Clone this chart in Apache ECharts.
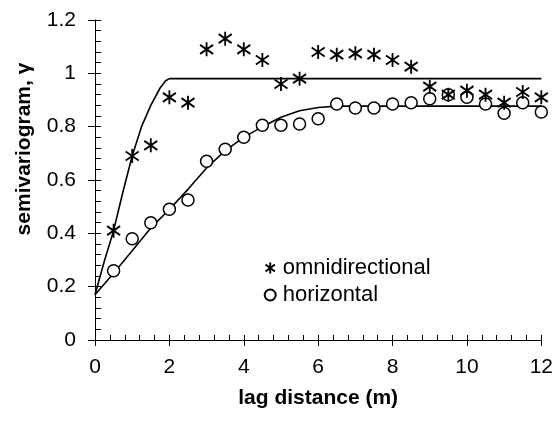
<!DOCTYPE html>
<html>
<head>
<meta charset="utf-8">
<script src="https://cdn.jsdelivr.net/npm/echarts@6/dist/echarts.min.js"></script>
<style>
    html, body { margin: 0; padding: 0; background: #fff; }
    #chart { width: 556px; height: 424px; }
</style>
</head>
<body>
<div id="chart"></div>
<script>
// measured lags (m)
const lags = [0.5, 1, 1.5, 2, 2.5, 3, 3.5, 4, 4.5, 5, 5.5, 6, 6.5, 7, 7.5, 8, 8.5, 9, 9.5, 10, 10.5, 11, 11.5, 12]
// experimental semivariogram values
const omniValues = [0.41, 0.69, 0.73, 0.91, 0.89, 1.09, 1.13, 1.09, 1.05, 0.96, 0.98, 1.08, 1.07, 1.075, 1.07, 1.05, 1.025, 0.95, 0.92, 0.935, 0.92, 0.89, 0.93, 0.91]
const horizValues = [0.26, 0.38, 0.44, 0.49, 0.525, 0.67, 0.715, 0.76, 0.805, 0.805, 0.81, 0.83, 0.885, 0.87, 0.87, 0.885, 0.89, 0.905, 0.92, 0.91, 0.885, 0.85, 0.89, 0.855]

// fitted model curves
const omniModelX = [0, 0.25, 0.5, 0.75, 1, 1.25, 1.5, 1.75, 1.9, 2, 12]
const omniModelY = [0.17, 0.295, 0.41, 0.555, 0.69, 0.80, 0.88, 0.945, 0.972, 0.98, 0.98]
const horizModelX = [0, 0.5, 1, 1.5, 2, 2.5, 3, 3.5, 4, 4.5, 5, 5.5, 6, 6.5, 12]
const horizModelY = [0.17, 0.25, 0.335, 0.42, 0.49, 0.565, 0.645, 0.71, 0.76, 0.80, 0.835, 0.86, 0.872, 0.877, 0.877]

const xTicks = { min: 0, max: 12, interval: 2 }
const yTicks = { min: 0, max: 1.2, interval: 0.2 }

const pairs = (xs, ys) => xs.map((x, i) => [x, ys[i]])

const FONT = 'Liberation Sans, Arial, Helvetica, sans-serif'
const ASTERISK = 'path://M6,0L6,14M0,2.5L12,11.5M0,11.5L12,2.5'

const chart = echarts.init(document.getElementById('chart'))

chart.setOption({
    animation: false,
    textStyle: { fontFamily: FONT, color: '#000' },
    grid: { left: 95, right: 14, top: 20, bottom: 84 },
    legend: {
        orient: 'vertical',
        left: 258,
        top: 251,
        itemWidth: 11,
        itemHeight: 11,
        itemGap: 3,
        textStyle: { fontFamily: FONT, fontSize: 22, color: '#000', lineHeight: 24, padding: [0, 0, 0, 2] },
        data: ['omnidirectional', 'horizontal']
    },
    xAxis: [
        {
            type: 'value',
            ...xTicks,
            position: 'bottom',
            name: 'lag distance (m)',
            nameLocation: 'middle',
            nameGap: 48,
            nameTextStyle: { fontFamily: FONT, fontSize: 21, fontWeight: 'bold', color: '#000' },
            axisLine: { onZero: false, lineStyle: { color: '#000', width: 1 } },
            axisTick: { inside: true, length: 5, lineStyle: { color: '#000' } },
            minorTick: { show: true, splitNumber: 5, length: 5, lineStyle: { color: '#000' } },
            axisLabel: { fontFamily: FONT, fontSize: 21, color: '#000', margin: 17 },
            splitLine: { show: false }
        },
        {
            // second copy only for the outward half of the major ticks
            type: 'value',
            ...xTicks,
            position: 'bottom',
            axisLine: { show: false, onZero: false },
            axisTick: { inside: false, length: 6, lineStyle: { color: '#000' } },
            axisLabel: { show: false },
            splitLine: { show: false }
        }
    ],
    yAxis: [
        {
            type: 'value',
            ...yTicks,
            position: 'left',
            name: 'semivariogram, γ',
            nameLocation: 'middle',
            nameGap: 60,
            nameTextStyle: { fontFamily: FONT, fontSize: 21, fontWeight: 'bold', color: '#000', padding: [0, 0, 0, 62] },
            axisLine: { show: true, onZero: false, lineStyle: { color: '#000', width: 1 } },
            axisTick: { show: true, inside: true, length: 6, lineStyle: { color: '#000' } },
            minorTick: { show: true, splitNumber: 5, length: 6, lineStyle: { color: '#000' } },
            axisLabel: { fontFamily: FONT, fontSize: 21, color: '#000', margin: 19 },
            splitLine: { show: false }
        },
        {
            type: 'value',
            ...yTicks,
            position: 'left',
            axisLine: { show: false, onZero: false },
            axisTick: { show: true, inside: false, length: 7, lineStyle: { color: '#000' } },
            axisLabel: { show: false },
            splitLine: { show: false }
        }
    ],
    series: [
        {
            name: 'omni model',
            type: 'line',
            data: pairs(omniModelX, omniModelY),
            showSymbol: false,
            lineStyle: { color: '#000', width: 1.6 },
            z: 2
        },
        {
            name: 'horizontal model',
            type: 'line',
            data: pairs(horizModelX, horizModelY),
            showSymbol: false,
            lineStyle: { color: '#000', width: 1.6 },
            z: 2
        },
        {
            name: 'horizontal',
            type: 'scatter',
            data: pairs(lags, horizValues),
            symbol: 'circle',
            symbolSize: 12,
            itemStyle: { color: '#fff', borderColor: '#000', borderWidth: 1.5, opacity: 1 },
            z: 3
        },
        {
            name: 'omnidirectional',
            type: 'scatter',
            data: pairs(lags, omniValues),
            symbol: ASTERISK,
            symbolSize: [13, 14],
            itemStyle: { color: 'none', borderColor: '#000', borderWidth: 1.9, opacity: 1 },
            z: 4
        }
    ]
})

window.onresize = function () {
    chart.resize()
}
</script>
</body>
</html>
